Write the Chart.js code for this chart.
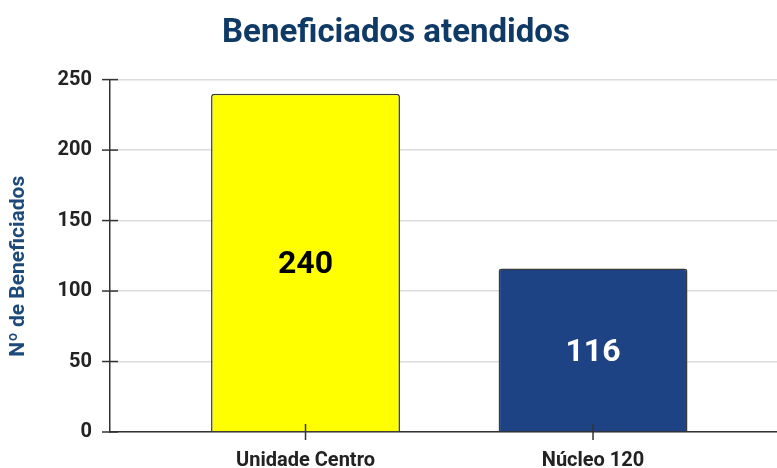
<!DOCTYPE html>
<html>
<head>
<meta charset="utf-8">
<script src="https://cdn.jsdelivr.net/npm/chart.js@4/dist/chart.umd.min.js"></script>
<style>
  html, body { margin: 0; padding: 0; background: #fff; overflow: hidden; }
  #wrap { width: 777px; height: 468px; overflow: hidden; }
</style>
</head>
<body>
<div id="wrap"><canvas id="benefChart" width="792" height="468"></canvas></div>
<script>
const categories = ['Unidade Centro', 'Núcleo 120'];
const beneficiados = [240, 116];
const barColors = ['#ffff00', '#1d4384'];
const valueColors = ['#000000', '#ffffff'];
const yMax = 250;
const yStep = 50;

// crossing tick marks + value labels in the middle of the bars
const extrasPlugin = {
    id: 'extras',
    afterDatasetsDraw(chart) {
        const ctx = chart.ctx;
        const x = chart.scales.x, y = chart.scales.y;
        ctx.save();
        ctx.strokeStyle = '#333';
        ctx.lineWidth = 1.5;
        y.ticks.forEach(function(t) {
            const py = y.getPixelForValue(t.value);
            ctx.beginPath();
            ctx.moveTo(x.left - 8, py);
            ctx.lineTo(x.left + 8, py);
            ctx.stroke();
        });
        x.ticks.forEach(function(t) {
            const px = x.getPixelForValue(t.value);
            ctx.beginPath();
            ctx.moveTo(px, y.bottom - 8);
            ctx.lineTo(px, y.bottom + 8);
            ctx.stroke();
        });
        const meta = chart.getDatasetMeta(0);
        ctx.font = 'bold 32px Roboto';
        ctx.textAlign = 'center';
        ctx.textBaseline = 'middle';
        meta.data.forEach(function(bar, i) {
            const p = bar.getProps(['x', 'y', 'base'], true);
            ctx.fillStyle = valueColors[i];
            ctx.fillText(String(beneficiados[i]), p.x, (p.y + p.base) / 2 + 3);
        });
        ctx.restore();
    }
};

new Chart(document.getElementById('benefChart'), {
    type: 'bar',
    data: {
        datasets: [{
            label: 'Beneficiados',
            data: beneficiados.map(function(v, i) { return { x: i, y: v }; }),
            backgroundColor: barColors,
            borderColor: '#3a3a3a',
            borderWidth: 1.5,
            borderRadius: { topLeft: 3, topRight: 3 },
            borderSkipped: 'bottom',
            categoryPercentage: 1,
            barPercentage: 0.657
        }]
    },
    options: {
        responsive: false,
        animation: false,
        layout: { padding: { left: 0, right: 0, top: 0, bottom: 0 } },
        plugins: {
            legend: { display: false },
            tooltip: { enabled: false },
            title: {
                display: true,
                text: 'Beneficiados atendidos',
                color: '#0f3a66',
                font: { family: 'Roboto', size: 33, weight: 'bold' },
                padding: { top: 14, bottom: 26 }
            }
        },
        scales: {
            x: {
                type: 'linear',
                offset: false,
                min: -0.68,
                max: 1.692,
                afterBuildTicks: function(s) {
                    s.ticks = categories.map(function(c, i) { return { value: i }; });
                },
                afterFit: function(s) { s.height = 36; },
                grid: { offset: false, drawOnChartArea: false, drawTicks: false, color: 'rgba(0,0,0,0)' },
                border: { display: true, color: '#333', width: 1.5 },
                ticks: {
                    padding: 17,
                    color: '#222',
                    font: { family: 'Roboto', size: 20, weight: 'bold' },
                    callback: function(v) { return categories[v]; }
                }
            },
            y: {
                min: 0,
                max: yMax,
                afterFit: function(s) { s.width = 110; },
                grid: { color: '#dcdcdc', lineWidth: 1.5, drawTicks: false },
                border: { display: true, color: '#333', width: 1.5 },
                ticks: {
                    stepSize: yStep,
                    padding: 18,
                    color: '#222',
                    font: { family: 'Roboto', size: 20, weight: 'bold' }
                },
                title: {
                    display: true,
                    text: 'Nº de Beneficiados\u00a0\u00a0\u00a0\u00a0',
                    color: '#1d4a7a',
                    font: { family: 'Roboto', size: 21, weight: 'bold' },
                    padding: { top: 6, bottom: 0 }
                }
            }
        }
    },
    plugins: [extrasPlugin]
});
</script>
</body>
</html>
